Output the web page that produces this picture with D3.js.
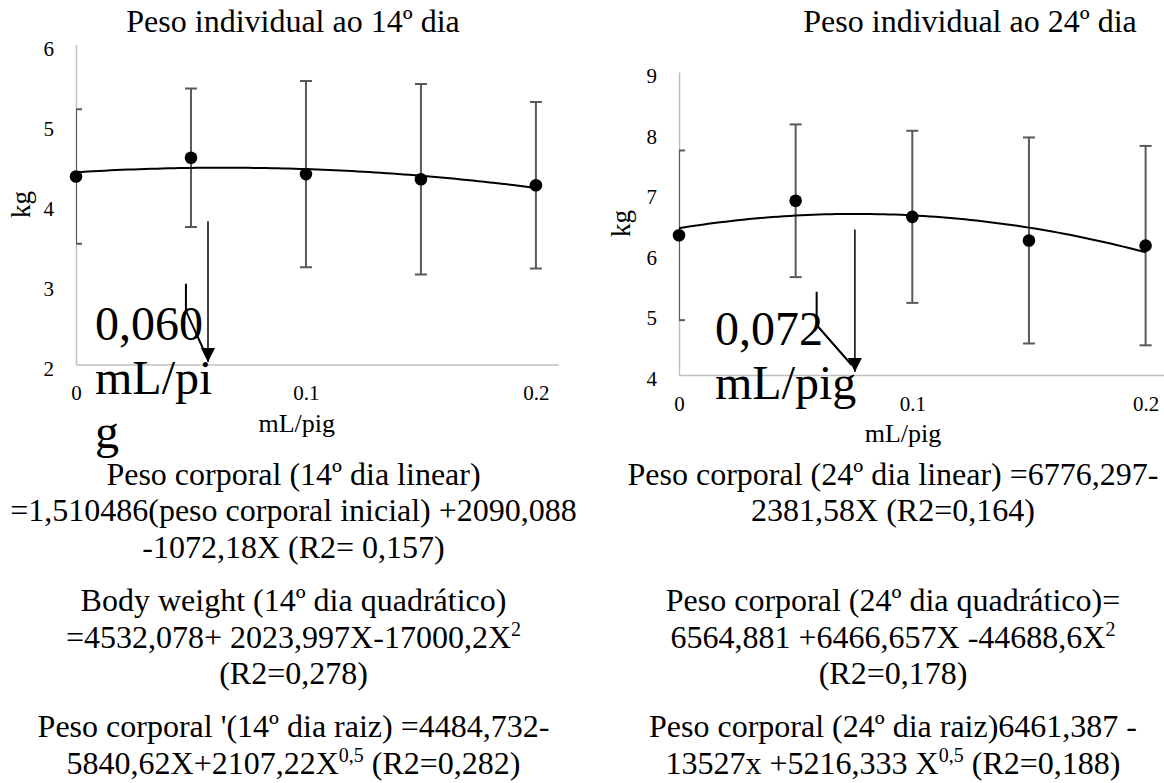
<!DOCTYPE html>
<html>
<head>
<meta charset="utf-8">
<script src="https://cdn.jsdelivr.net/npm/d3@7"></script>
<style>
  body { margin: 0; background: #fff; }
  text, tspan { font-family: "Liberation Serif", "Times New Roman", serif; fill: #000; }
</style>
</head>
<body>
<svg id="fig" width="1164" height="783"></svg>
<script>
// ---- data ----
const doses = [0, 0.05, 0.1, 0.15, 0.2];          // mL/pig
const xTickValues = [0, 0.1, 0.2];
const xTickLabels = ["0", "0.1", "0.2"];

const day14Means = [4.35, 4.585, 4.38, 4.315, 4.24];   // kg
const day14Err   = [0.84, 0.865, 1.165, 1.19, 1.04];
const day14Ticks = [2, 3, 4, 5, 6];

const day24Means = [6.305, 6.875, 6.61, 6.22, 6.135];  // kg
const day24Err   = [1.40, 1.26, 1.42, 1.70, 1.645];
const day24Ticks = [4, 5, 6, 7, 8, 9];

const titles = ["Peso individual ao 14º dia", "Peso individual ao 24º dia"];
const yTitle = "kg";
const xTitle = "mL/pig";
const optimum14 = ["0,060", "mL/pi", "g"];
const optimum24 = ["0,072", "mL/pig"];

// "^" marks a superscript that runs to the next space
const equations14 = [
  ["Peso corporal (14º dia linear)", "=1,510486(peso corporal inicial) +2090,088", "-1072,18X (R2= 0,157)"],
  ["Body weight (14º dia quadrático)", "=4532,078+ 2023,997X-17000,2X^2", "(R2=0,278)"],
  ["Peso corporal '(14º dia raiz) =4484,732-", "5840,62X+2107,22X^0,5 (R2=0,282)"]
];
const equations24 = [
  ["Peso corporal (24º dia linear) =6776,297-", "2381,58X (R2=0,164)", ""],
  ["Peso corporal (24º dia quadrático)=", "6564,881 +6466,657X -44688,6X^2", "(R2=0,178)"],
  ["Peso corporal (24º dia raiz)6461,387 -", "13527x +5216,333 X^0,5 (R2=0,188)"]
];

// ---- layout ----
const serif = '"Liberation Serif", "Times New Roman", serif';
const xDomain = [0, 0.2096];
const panels = [
  {
    title: titles[0], means: day14Means, err: day14Err, ticks: day14Ticks,
    yDomain: [2, 6], xRange: [76, 558], yRange: [364.5, 44.5],
    titleX: 293, eqX: 293.5, eqs: equations14, kgX: 29.5,
    opt: optimum14, optX: 95, optY: 340,
    stem: { x: 0.0574, y0: 3.79, y1: 2.03 },
    elbow: [[0.0478, 3.01], [0.0478, 2.67], [0.0568, 2.10]]
  },
  {
    title: titles[1], means: day24Means, err: day24Err, ticks: day24Ticks,
    yDomain: [4, 9], xRange: [679, 1168], yRange: [375, 72],
    titleX: 970, eqX: 893, eqs: equations24, kgX: 629.5,
    opt: optimum24, optX: 715, optY: 345,
    stem: { x: 0.0754, y0: 6.40, y1: 4.05 },
    elbow: [[0.059, 5.375], [0.059, 4.825], [0.074, 4.165]]
  }
];

// least-squares quadratic fit y = a + b x + c x^2
function quadFit(xs, ys) {
  const S = k => d3.sum(xs, v => Math.pow(v, k));
  const T = k => d3.sum(xs, (v, i) => Math.pow(v, k) * ys[i]);
  const M = [[S(0), S(1), S(2), T(0)], [S(1), S(2), S(3), T(1)], [S(2), S(3), S(4), T(2)]];
  for (let c = 0; c < 3; c++) {
    let p = c;
    for (let r = c + 1; r < 3; r++) if (Math.abs(M[r][c]) > Math.abs(M[p][c])) p = r;
    [M[c], M[p]] = [M[p], M[c]];
    for (let r = 0; r < 3; r++) {
      if (r === c) continue;
      const f = M[r][c] / M[c][c];
      for (let k = c; k < 4; k++) M[r][k] -= f * M[c][k];
    }
  }
  return [M[0][3] / M[0][0], M[1][3] / M[1][1], M[2][3] / M[2][2]];
}

const svg = d3.select("#fig");
svg.append("rect").attr("width", 1164).attr("height", 783).attr("fill", "#fff");

const defs = svg.append("defs");
defs.append("marker")
  .attr("id", "arrowHead")
  .attr("viewBox", "0 0 10 10")
  .attr("refX", 10).attr("refY", 5)
  .attr("markerWidth", 14).attr("markerHeight", 14)
  .attr("markerUnits", "userSpaceOnUse")
  .attr("orient", "auto")
  .append("path").attr("d", "M0,0L10,5L0,10Z").attr("fill", "#000");

function label(sel, size) {
  return sel.attr("font-family", serif).style("font-family", serif)
    .style("font-size", size + "px").attr("fill", "#000");
}

panels.forEach((p, i) => {
  const x = d3.scaleLinear().domain(xDomain).range(p.xRange);
  const y = d3.scaleLinear().domain(p.yDomain).range(p.yRange);
  const g = svg.append("g").attr("font-family", serif);

  defs.append("clipPath").attr("id", "plotClip" + i)
    .append("rect")
    .attr("x", p.xRange[0]).attr("y", p.yRange[1] - 20)
    .attr("width", p.xRange[1] - p.xRange[0] + 20)
    .attr("height", p.yRange[0] - p.yRange[1] + 40);

  // title
  label(g.append("text"), 32).attr("x", p.titleX).attr("y", 32)
    .attr("text-anchor", "middle").text(p.title);

  // y axis
  const yAxis = g.append("g").attr("transform", `translate(${p.xRange[0]},0)`)
    .call(d3.axisLeft(y).tickValues(p.ticks).tickFormat(d3.format("d"))
      .tickSize(0).tickSizeOuter(0).tickPadding(22));
  yAxis.attr("font-family", serif).attr("font-size", 21);
  yAxis.select(".domain").attr("stroke", "#bfbfbf").attr("stroke-width", 1.5);
  label(yAxis.selectAll("text"), 21).attr("dy", "0.5em");

  // x axis
  const xAxis = g.append("g").attr("transform", `translate(0,${p.yRange[0]})`)
    .call(d3.axisBottom(x).tickValues(xTickValues).tickFormat((d, k) => xTickLabels[k])
      .tickSize(0).tickSizeOuter(0).tickPadding(21));
  xAxis.attr("font-family", serif).attr("font-size", 21);
  xAxis.select(".domain").attr("stroke", "#bfbfbf").attr("stroke-width", 1.5);
  label(xAxis.selectAll("text"), 21);

  // axis titles
  label(g.append("text"), 26).attr("x", x(0.096)).attr("y", p.yRange[0] + 67)
    .attr("text-anchor", "middle").text(xTitle);
  const yMid = (p.yRange[0] + p.yRange[1]) / 2;
  label(g.append("text"), 27)
    .attr("transform", `translate(${p.kgX},${yMid}) rotate(-90)`)
    .attr("text-anchor", "middle").text(yTitle);

  // error bars
  const eb = g.append("g").attr("clip-path", `url(#plotClip${i})`)
    .attr("stroke", "#595959").attr("stroke-width", 2).attr("fill", "none");
  doses.forEach((d, k) => {
    const cx = x(d), hi = y(p.means[k] + p.err[k]), lo = y(p.means[k] - p.err[k]);
    eb.append("line").attr("x1", cx).attr("x2", cx).attr("y1", hi).attr("y2", lo);
    eb.append("line").attr("x1", cx - 6).attr("x2", cx + 6).attr("y1", hi).attr("y2", hi);
    eb.append("line").attr("x1", cx - 6).attr("x2", cx + 6).attr("y1", lo).attr("y2", lo);
  });

  // quadratic trend line fitted to the means
  const [a, b, c] = quadFit(doses, p.means);
  const xs = d3.range(0, 0.2 + 1e-9, 0.2 / 80);
  g.append("path")
    .attr("d", d3.line().x(v => x(v)).y(v => y(a + b * v + c * v * v))(xs))
    .attr("fill", "none").attr("stroke", "#000").attr("stroke-width", 2);

  // means
  g.selectAll("circle.mean").data(doses).join("circle")
    .attr("class", "mean")
    .attr("cx", d => x(d)).attr("cy", (d, k) => y(p.means[k]))
    .attr("r", 6.3).attr("fill", "#000");

  // optimum dose callout
  g.append("line")
    .attr("x1", x(p.stem.x)).attr("x2", x(p.stem.x))
    .attr("y1", y(p.stem.y0)).attr("y2", y(p.stem.y1))
    .attr("stroke", "#000").attr("stroke-width", 1.5)
    .attr("marker-end", "url(#arrowHead)");
  g.append("path")
    .attr("d", d3.line().x(v => x(v[0])).y(v => y(v[1]))(p.elbow))
    .attr("fill", "none").attr("stroke", "#000").attr("stroke-width", 2);
  p.opt.forEach((line, k) => {
    label(g.append("text"), 48).attr("x", p.optX).attr("y", p.optY + k * 54).text(line);
  });

  // regression equations
  let base = 485;
  p.eqs.forEach((para, pi) => {
    if (pi > 0) base += 17;
    para.forEach(line => {
      if (line) {
        const t = label(g.append("text"), 32).attr("x", p.eqX).attr("y", base)
          .attr("text-anchor", "middle");
        const parts = line.split(/\^(\S+)/);
        let raised = false;
        parts.forEach((part, j) => {
          if (!part) return;
          if (j % 2 === 1) {
            label(t.append("tspan"), 20).attr("dy", -12).text(part);
            raised = true;
          } else {
            const s = label(t.append("tspan"), 32).text(part);
            if (raised) { s.attr("dy", 12); raised = false; }
          }
        });
      }
      base += 36.4;
    });
  });
});
</script>
</body>
</html>
